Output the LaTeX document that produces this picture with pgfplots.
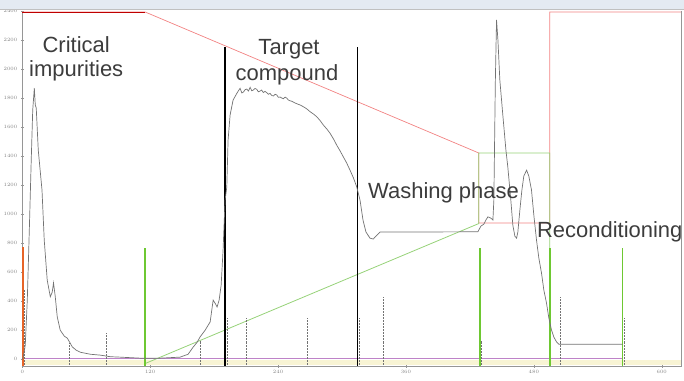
\documentclass[border=0pt]{standalone}
\usepackage{pgfplots}
\pgfplotsset{compat=1.18}
\usepackage{fontspec}
\setmainfont{Liberation Sans}
\definecolor{sig}{RGB}{115,115,115}
\definecolor{axisgray}{RGB}{150,150,150}
\definecolor{redl}{RGB}{242,130,130}
\definecolor{greenl}{RGB}{150,210,120}
\definecolor{greenb}{RGB}{110,200,50}
\definecolor{orangeb}{RGB}{230,100,40}
\definecolor{purpl}{RGB}{190,130,200}
\definecolor{yell}{RGB}{248,244,212}
\definecolor{txt}{RGB}{60,60,60}
\definecolor{barblue}{RGB}{228,234,242}
\begin{document}
\begin{tikzpicture}
\begin{axis}[
  scale only axis, width=660pt, height=355.75pt,
  xmin=0, xmax=618.75, ymin=-50, ymax=2400,
  axis x line=bottom, axis y line=left,
  axis line style={draw=axisgray,-},
  xtick={0,120,...,600}, ytick={0,200,...,2400},
  minor x tick num=9,
  tick style={draw=axisgray}, tick align=center,
  major tick length=3pt, minor tick length=1.5pt,
  ticklabel style={font=\fontsize{3.5}{4}\selectfont, text=gray},
  /pgf/number format/1000 sep={},
  xticklabel style={yshift=1pt},
  clip=false,
]
\coordinate (sw) at (rel axis cs:0,0);
\coordinate (ne) at (rel axis cs:1,1);
% yellow band
\addplot[draw=none, fill=yell] coordinates {(0,-7) (618.75,-7) (618.75,-42) (0,-42)} -- cycle;
% purple baseline
\addplot[purpl, line width=0.6pt] coordinates {(0,9) (563.4,9)};
% red trace
\addplot[redl, line width=0.7pt] coordinates {(0,2393) (115.3,2393) (428.4,1421) (428.4,938) (495,938) (495,2393) (618.75,2393)};
\addplot[red!75!black, line width=0.8pt] coordinates {(0,2393) (115.3,2393)};
% green trace
\addplot[greenl, line width=0.8pt] coordinates {(115.3,-30) (428.4,935) (428.4,1421) (495,1421) (495,-45)};
% thick green event lines
\addplot[greenb, line width=1.4pt] coordinates {(115.3,-45) (115.3,766)};
\addplot[greenb, line width=1.4pt] coordinates {(429.4,-45) (429.4,766)};
\addplot[greenb, line width=1.4pt] coordinates {(495,-45) (495,766)};
\addplot[greenb, line width=1.4pt] coordinates {(563.4,-45) (563.4,766)};
\addplot[orangeb, line width=1.4pt] coordinates {(0.6,-45) (0.6,772)};
% fraction boundaries
\addplot[black, line width=1.2pt] coordinates {(190.3,-45) (190.3,2154)};
\addplot[black, line width=1.2pt] coordinates {(314.7,-45) (314.7,2154)};
% event markers
\addplot[black!55, line width=0.5pt, densely dotted] coordinates {(1.8,-40) (1.8,480)};
\addplot[black!55, line width=0.5pt, densely dotted] coordinates {(44,-40) (44,110)};
\addplot[black!55, line width=0.5pt, densely dotted] coordinates {(78.75,-40) (78.75,179)};
\addplot[black!55, line width=0.5pt, densely dotted] coordinates {(166.9,-40) (166.9,131)};
\addplot[black!55, line width=0.5pt, densely dotted] coordinates {(192.2,-40) (192.2,283)};
\addplot[black!55, line width=0.5pt, densely dotted] coordinates {(210.6,-40) (210.6,283)};
\addplot[black!55, line width=0.5pt, densely dotted] coordinates {(267.8,-40) (267.8,283)};
\addplot[black!55, line width=0.5pt, densely dotted] coordinates {(316.5,-40) (316.5,283)};
\addplot[black!55, line width=0.5pt, densely dotted] coordinates {(338.4,-40) (338.4,428)};
\addplot[black!55, line width=0.5pt, densely dotted] coordinates {(430.8,-40) (430.8,131)};
\addplot[black!55, line width=0.5pt, densely dotted] coordinates {(504.4,-40) (504.4,428)};
\addplot[black!55, line width=0.5pt, densely dotted] coordinates {(564.8,-40) (564.8,283)};
% signal
\addplot[sig, line width=0.7pt] coordinates {
(0,0) (0.9,14) (2.8,97) (4.7,407) (6.6,890) (8.4,1372) (9.8,1717) (11.3,1869)
(12.2,1752) (13.1,1731) (15.0,1441) (18.5,1166) (20.6,821) (23.4,545) (26.3,430)
(28.1,462) (29.3,526) (30.9,434) (32.8,292) (35.6,200) (39.4,159) (42.2,145)
(45.0,110) (46.9,85) (50.6,62) (54.4,48) (63.8,34) (73.1,28) (82.5,17) (91.9,14)
(110.6,7) (129.4,7) (148.1,14) (155.6,34) (160.3,83) (164.1,117) (166.9,154)
(171.6,200) (176.3,257) (179.1,407) (180.9,386) (182.8,360) (184.7,407) (186.6,510)
(188.4,752) (190.3,1097) (191.9,1186) (193.1,1510) (195.0,1683) (197.8,1786)
(201.3,1832) (202.8,1850) (204.4,1867) (206.0,1835) (207.5,1841) (209.1,1858)
(210.7,1862) (212.2,1848) (213.8,1874) (215.3,1850) (216.8,1855) (218.4,1866)
(220.0,1860) (221.5,1843) (223.1,1848) (224.6,1855) (226.2,1838) (227.8,1846)
(229.4,1837) (231.0,1826) (232.5,1832) (234.0,1818) (235.6,1814) (237.2,1826)
(238.8,1821) (240.3,1805) (241.9,1807) (243.5,1800) (245.0,1795) (246.6,1806)
(248.1,1800) (249.7,1786) (251.3,1781) (252.8,1778) (254.4,1772) (256.0,1766)
(257.5,1761) (260.7,1752) (263.8,1740) (267.0,1725) (270.0,1706) (273.2,1690)
(276.3,1671) (279.4,1645) (282.5,1614) (285.6,1588) (288.8,1557) (292.0,1518)
(295.0,1476) (298.1,1437) (301.2,1395) (304.4,1352) (307.5,1303) (310.7,1250)
(313.8,1188) (316.9,1097) (319.7,959) (322.5,876) (326.3,834) (329.3,828)
(332.8,855) (335.6,876) (427.5,878) (430.3,917) (433.1,931) (435.0,959)
(436.9,981) (439.7,972) (441.6,959) (442.5,1097) (443.9,1924) (445.0,2338)
(446.3,2200) (448.1,1924) (450.9,1683) (453.8,1441) (455.6,1324) (458.4,1097)
(460.3,924) (462.2,848) (463.8,834) (465.0,876) (466.9,1028) (468.8,1166)
(470.6,1262) (473.2,1303) (475.3,1262) (477.8,1166) (480.0,993) (482.5,821)
(484.7,697) (487.2,593) (489.4,476) (491.9,386) (494.1,283) (496.6,200)
(498.8,152) (501.3,119) (503.4,103) (563.4,103)
};
% annotations
\node[anchor=base, inner sep=0pt, text=txt, font=\fontsize{22}{25}\selectfont] at (axis cs:50.6,2117) {Critical};
\node[anchor=base, inner sep=0pt, text=txt, font=\fontsize{22}{25}\selectfont] at (axis cs:50.6,1945) {impurities};
\node[anchor=base, inner sep=0pt, text=txt, font=\fontsize{22}{25}\selectfont] at (axis cs:250.3,2097) {Target};
\node[anchor=base, inner sep=0pt, text=txt, font=\fontsize{22}{25}\selectfont] at (axis cs:248.4,1924) {compound};
\node[anchor=base west, inner sep=0pt, text=txt, font=\fontsize{22}{25}\selectfont] at (axis cs:324.4,1110) {Washing phase};
\node[anchor=base west, inner sep=0pt, text=txt, font=\fontsize{22}{25}\selectfont] at (axis cs:482.8,841) {Reconditioning};
\end{axis}
% window frame
\fill[barblue] ([xshift=-22pt,yshift=11pt]sw |- ne) rectangle ([xshift=2pt,yshift=2pt]ne);
\draw[axisgray!60, line width=0.6pt] ([xshift=-22pt,yshift=1.5pt]sw |- ne) -- ([xshift=2pt,yshift=1.5pt]ne);
\draw[axisgray, line width=0.8pt] (ne) -- (ne |- sw);
\path[use as bounding box] ([xshift=-22pt,yshift=-13.75pt]sw) rectangle ([xshift=2pt,yshift=11pt]ne);
\end{tikzpicture}
\end{document}
